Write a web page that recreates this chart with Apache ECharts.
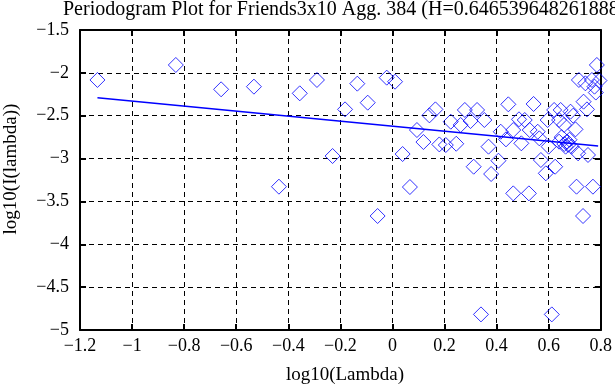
<!DOCTYPE html>
<html><head><meta charset="utf-8">
<script src="https://cdn.jsdelivr.net/npm/echarts@6/dist/echarts.min.js"></script>
<style>html,body{margin:0;padding:0;background:#fff}#c{width:615px;height:385px}</style>
</head><body><div id="c"></div>
<script>
const titleText = 'Periodogram Plot for Friends3x10 Agg. 384 (H=0.646539648261888)';
const xName = 'log10(Lambda)';
const yName = 'log10(I(lambda))';
const xTicks = [-1.2, -1, -0.8, -0.6, -0.4, -0.2, 0, 0.2, 0.4, 0.6, 0.8];
const yTicks = [-5, -4.5, -4, -3.5, -3, -2.5, -2, -1.5];
const pointsX = [-1.133,-0.832,-0.658,-0.532,-0.436,-0.356,-0.290,-0.230,-0.182,-0.135,-0.095,-0.057,-0.022,0.010,0.039,0.067,0.094,0.119,0.142,0.165,0.180,0.205,0.224,0.245,0.262,0.278,0.300,0.312,0.325,0.340,0.353,0.369,0.379,0.407,0.416,0.436,0.445,0.464,0.464,0.486,0.495,0.508,0.524,0.527,0.542,0.558,0.564,0.570,0.589,0.596,0.600,0.612,0.621,0.625,0.640,0.640,0.646,0.659,0.665,0.671,0.684,0.688,0.703,0.707,0.713,0.716,0.732,0.734,0.741,0.747,0.751,0.766,0.770,0.776,0.785,0.795,0.781,0.650,0.660,0.675,0.680,0.694];
const pointsY = [-2.083,-1.908,-2.192,-2.161,-3.328,-2.239,-2.083,-2.970,-2.426,-2.126,-2.348,-3.670,-2.056,-2.103,-2.947,-3.332,-2.667,-2.807,-2.496,-2.426,-2.835,-2.842,-2.570,-2.827,-2.608,-2.433,-2.562,-3.095,-2.433,-4.818,-2.550,-2.861,-3.180,-3.025,-2.687,-2.776,-2.367,-2.667,-3.406,-2.542,-2.822,-2.550,-3.406,-2.667,-2.363,-2.687,-2.764,-3.017,-3.172,-2.550,-2.861,-4.818,-2.433,-3.095,-2.550,-2.803,-2.433,-2.608,-2.861,-2.803,-2.453,-2.861,-2.659,-3.328,-2.939,-2.083,-3.670,-2.336,-2.122,-2.426,-2.958,-2.083,-3.328,-2.161,-1.908,-2.090,-2.230,-2.750,-2.830,-2.840,-2.780,-2.500];
const fitX = [-1.133, 0.790];
const fitY = [-2.290, -2.853];

const fmt = v => String(Math.round(v*10)/10).replace('-', '\u2212');
const font = '"Liberation Serif", "DejaVu Serif", serif';
const chart = echarts.init(document.getElementById('c'), null, {renderer: 'canvas'});
const axisCommon = {
  axisLine: {show: true, onZero: false, lineStyle: {color: '#000', width: 2}},
  axisTick: {show: true, inside: true, length: 6, lineStyle: {color: '#000', width: 2}},
};
chart.setOption({
  animation: false,
  backgroundColor: '#fff',
  grid: {left: 80, right: 7, top: 30, bottom: 55, containLabel: false},
  graphic: [
    {type: 'text', left: 63, top: 0, style: {text: titleText, font: '20px ' + font, fill: '#000'}},
    {type: 'text', x: 345, y: 375, style: {text: xName, font: '19px ' + font, fill: '#000', align: 'center', verticalAlign: 'middle'}},
    {type: 'text', x: 11, y: 169, rotation: Math.PI/2, style: {text: yName, font: '19px ' + font, fill: '#000', align: 'center', verticalAlign: 'middle'}}
  ],
  xAxis: [
    Object.assign({type: 'value', min: xTicks[0], max: xTicks[xTicks.length-1], interval: 0.2, position: 'bottom',
      axisLabel: {formatter: fmt, color: '#000', fontFamily: font, fontSize: 18, margin: 7, showMaxLabel: true},
      splitLine: {show: true, lineStyle: {color: '#000', type: [5, 4], width: 1}}}, axisCommon),
    Object.assign({type: 'value', min: xTicks[0], max: xTicks[xTicks.length-1], interval: 0.2, position: 'top',
      axisLabel: {show: false}, splitLine: {show: false}}, axisCommon)
  ],
  yAxis: [
    Object.assign({type: 'value', min: yTicks[0], max: yTicks[yTicks.length-1], interval: 0.5, position: 'left',
      axisLabel: {formatter: fmt, color: '#000', fontFamily: font, fontSize: 18, margin: 11},
      splitLine: {show: true, lineStyle: {color: '#000', type: [5, 4], width: 1}}}, axisCommon),
    Object.assign({type: 'value', min: yTicks[0], max: yTicks[yTicks.length-1], interval: 0.5, position: 'right',
      axisLabel: {show: false}, splitLine: {show: false}}, axisCommon)
  ],
  series: [
    {type: 'scatter', xAxisIndex: 0, yAxisIndex: 0, symbol: 'diamond', symbolSize: [15, 15],
      itemStyle: {color: 'rgba(0,0,0,0)', borderColor: '#0000ff', borderWidth: 1},
      data: pointsX.map((x, i) => [x, pointsY[i]])},
    {type: 'line', xAxisIndex: 0, yAxisIndex: 0, showSymbol: false, symbol: 'none',
      lineStyle: {color: '#0000ff', width: 1.5},
      data: fitX.map((x, i) => [x, fitY[i]])}
  ]
});
</script></body></html>
